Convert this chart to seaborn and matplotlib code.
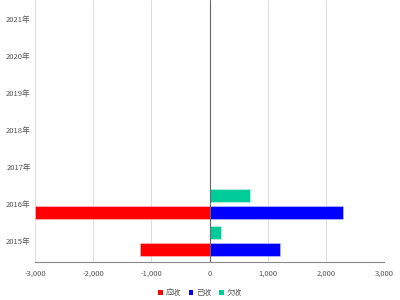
import matplotlib
matplotlib.use("Agg")
import matplotlib.pyplot as plt
import seaborn as sns
import numpy as np
from matplotlib.ticker import FuncFormatter
from matplotlib.patches import Patch

years = ["2015年", "2016年", "2017年", "2018年", "2019年", "2020年", "2021年"]
receivable = [-1200, -3000, 0, 0, 0, 0, 0]   # 应收
received = [1210, 2300, 0, 0, 0, 0, 0]       # 已收
owed = [200, 700, 0, 0, 0, 0, 0]             # 欠收
series_names = ["应收", "已收", "欠收"]
colors = ["#FF0000", "#0000FF", "#00CC99"]

sns.set_theme(style="white")
plt.rcParams['font.family'] = ['Noto Sans CJK SC', 'DejaVu Sans']

fig = plt.figure(figsize=(4, 3), dpi=100)
ax = fig.add_axes([0.0875, 0.128, 0.8725, 0.872])

y = np.arange(len(years))
h = 0.35
off = 0.23
ax.barh(y - off, receivable, height=h, color=colors[0], edgecolor="#ffcccc", linewidth=0.4, zorder=3)
ax.barh(y - off, received, height=h, color=colors[1], edgecolor="#ccccff", linewidth=0.4, zorder=3)
ax.barh(y + off, owed, height=h, color=colors[2], edgecolor="#ccf5eb", linewidth=0.4, zorder=3)

ax.set_xlim(-3000, 3000)
ax.set_ylim(-0.55, 6.5)
ax.set_xticks(np.arange(-3000, 3001, 1000))
ax.xaxis.set_major_formatter(FuncFormatter(lambda v, p: f"{int(v):,}"))
ax.set_yticks(y)
ax.set_yticklabels(years)
ax.tick_params(axis='both', labelsize=5.5, colors="#555555", length=0, pad=3)
ax.tick_params(axis='x', length=3, color="#888888", width=0.6)

ax.grid(axis='x', color="#dddddd", linewidth=0.7, zorder=0)
ax.axvline(0, color="#666666", linewidth=0.8, zorder=4)
for s in ["top", "right"]:
    ax.spines[s].set_visible(False)
ax.spines["left"].set_color("#dddddd")
ax.spines["left"].set_linewidth(0.7)
ax.spines["bottom"].set_color("#888888")
ax.spines["bottom"].set_linewidth(0.8)

handles = [Patch(facecolor=c, edgecolor='none') for c in colors]
fig.legend(handles, series_names, loc="center", bbox_to_anchor=(0.5, 0.023), ncol=3,
           frameon=False, fontsize=5.5, handlelength=0.6, handleheight=0.6,
           handletextpad=0.4, columnspacing=1.0, labelcolor="#555555")

fig.savefig("out.png", dpi=100)
